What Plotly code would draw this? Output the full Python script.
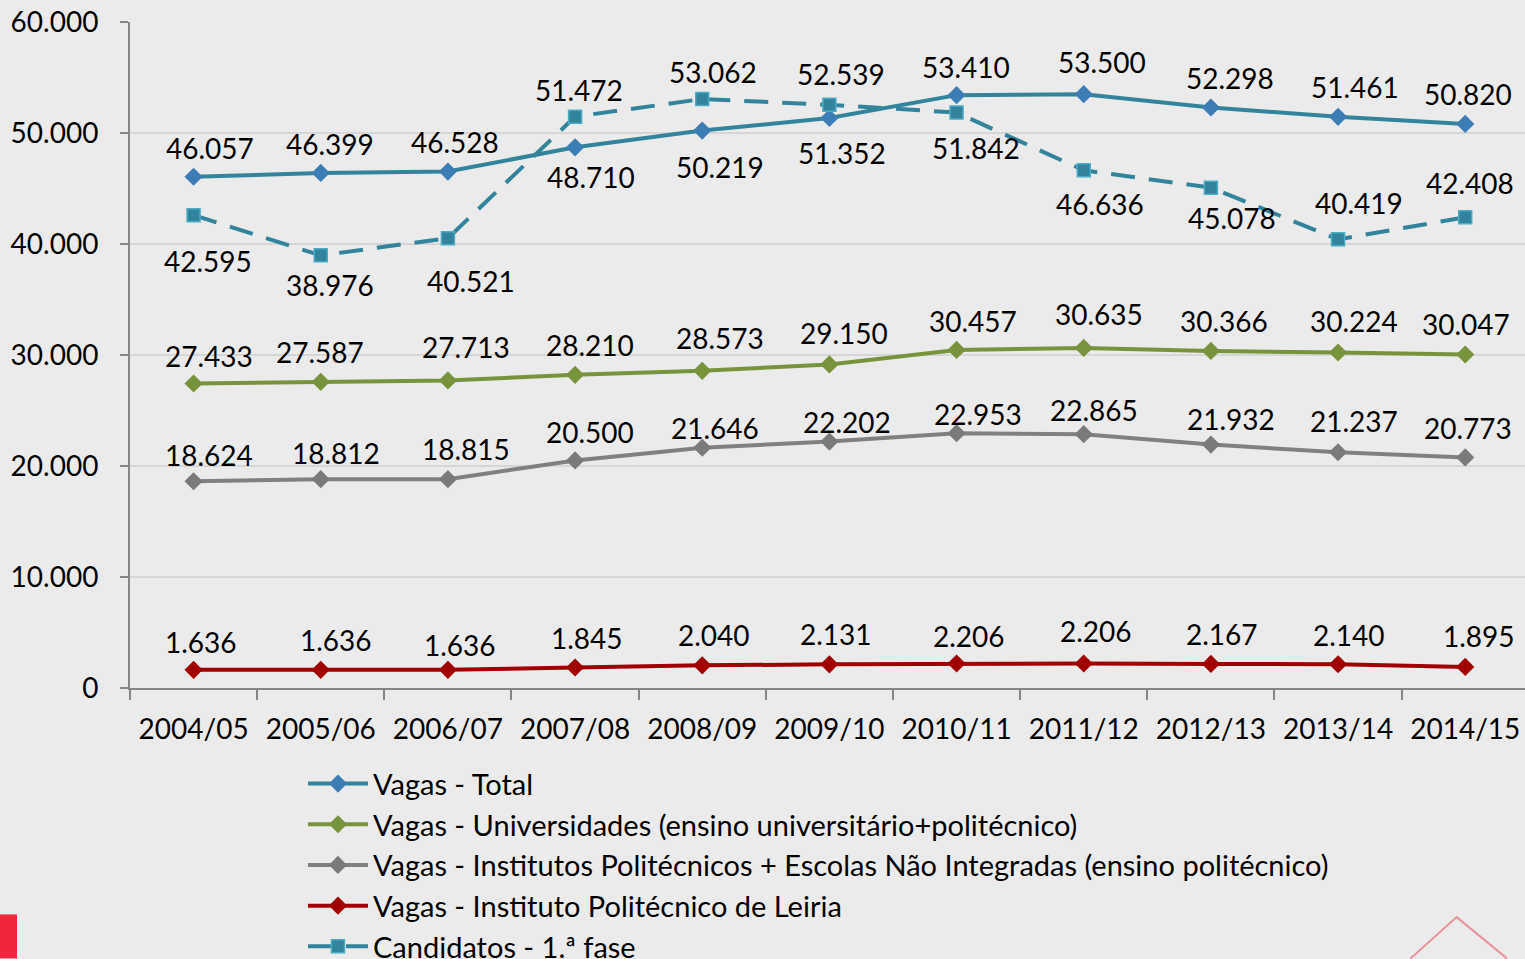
import plotly.graph_objects as go

years = ["2004/05", "2005/06", "2006/07", "2007/08", "2008/09", "2009/10",
         "2010/11", "2011/12", "2012/13", "2013/14", "2014/15"]
vagas_total = [46057, 46399, 46528, 48710, 50219, 51352, 53410, 53500, 52298, 51461, 50820]
vagas_univ = [27433, 27587, 27713, 28210, 28573, 29150, 30457, 30635, 30366, 30224, 30047]
vagas_poli = [18624, 18812, 18815, 20500, 21646, 22202, 22953, 22865, 21932, 21237, 20773]
vagas_leiria = [1636, 1636, 1636, 1845, 2040, 2131, 2206, 2206, 2167, 2140, 1895]
candidatos = [42595, 38976, 40521, 51472, 53062, 52539, 51842, 46636, 45078, 40419, 42408]

# label offsets (pixels) – style only
total_dx = [16, 9, 7, 16, 18, 13, 9, 18, 19, 17, 3]
total_dy = [29, 29, 30, -30, -36, -35, 28, 32, 29, 30, 30]
cand_dx = [14, 9, 23, 4, 11, 12, 19, 16, 21, 21, 5]
cand_dy = [-46, -30, -43, 27, 27, 31, -35, -34, -30, 36, 34]
univ_dx = [15, -1, 18, 15, 18, 15, 16, 15, 13, 16, 1]
univ_dy = [27, 30, 33, 30, 33, 31, 29, 34, 30, 32, 30]
poli_dx = [15, 15, 18, 15, 13, 18, 21, 10, 20, 16, 3]
poli_dy = [26, 26, 30, 28, 20, 20, 19, 24, 26, 31, 29]
leir_dx = [7, 15, 12, 12, 12, 7, 12, 12, 11, 11, 14]
leir_dy = [28, 30, 25, 30, 30, 30, 28, 33, 30, 29, 31]

FONT = "Lato, 'Open Sans', sans-serif"
fig = go.Figure()

series = [
    ("Vagas - Total", vagas_total, "#31849B", "#3C7DB5", "diamond", False, total_dx, total_dy),
    ("Vagas - Universidades (ensino universitário+politécnico)", vagas_univ, "#77933C", "#77933C", "diamond", False, univ_dx, univ_dy),
    ("Vagas - Institutos Politécnicos + Escolas Não Integradas (ensino politécnico)", vagas_poli, "#808080", "#7A7A7A", "diamond", False, poli_dx, poli_dy),
    ("Vagas - Instituto Politécnico de Leiria", vagas_leiria, "#A00000", "#A00000", "diamond", False, leir_dx, leir_dy),
    ("Candidatos - 1.ª fase", candidatos, "#31849B", "#31849B", "square", True, cand_dx, cand_dy),
]

annotations = []
for name, vals, lc, mc, sym, dashed, dxs, dys in series:
    mline = dict(width=1.5, color="#4BACC6") if sym == "square" else dict(width=0)
    fig.add_trace(go.Scatter(
        x=years, y=vals, name=name, mode="lines+markers",
        line=dict(color=lc, width=4, dash="24px,14px" if dashed else "solid"),
        marker=dict(symbol=sym, size=14 if sym == "diamond" else 13, color=mc, line=mline),
    ))
    for xv, yv, dx, dy in zip(years, vals, dxs, dys):
        annotations.append(dict(
            x=xv, y=yv, xref="x", yref="y", text=f"{yv:,}".replace(",", "."),
            showarrow=False, xshift=dx, yshift=dy,
            font=dict(family=FONT, size=28, color="#000000"),
        ))

fig.update_layout(
    width=1525, height=959,
    margin=dict(l=130, r=0, t=22, b=271),
    paper_bgcolor="#EBEBEB", plot_bgcolor="rgba(0,0,0,0)",
    separators=",.",
    font=dict(family=FONT, size=28, color="#000000"),
    annotations=annotations,
    legend=dict(
        yref="container",
        x=0.124, y=0.2094, xanchor="left", yanchor="top",
        bgcolor="rgba(0,0,0,0)", font=dict(family=FONT, size=29, color="#000000"),
        tracegroupgap=0, itemwidth=60,
    ),
    xaxis=dict(
        type="category", range=[-0.5, 10.47], tickson="boundaries",
        ticks="outside", ticklen=10, tickcolor="#868686", tickwidth=2,
        showline=True, linecolor="#868686", linewidth=2, showgrid=False,
        ticklabelstandoff=15,
        tickfont=dict(family=FONT, size=28, color="#000000"),
    ),
    yaxis=dict(
        range=[0, 60000], tickvals=[0, 10000, 20000, 30000, 40000, 50000, 60000],
        tickformat=",", ticks="outside", ticklen=8, tickcolor="#868686", tickwidth=2,
        showline=True, linecolor="#868686", linewidth=2,
        showgrid=True, gridcolor="#D6D6D6", gridwidth=2, zeroline=False,
        ticklabelstandoff=16,
        tickfont=dict(family=FONT, size=28, color="#000000"),
    ),
    shapes=[
        dict(type="rect", xref="paper", yref="paper", x0=-0.0932, x1=-0.081, y0=-0.406, y1=-0.34,
             fillcolor="#F0263C", line=dict(width=0), layer="below"),
        dict(type="path", xref="paper", yref="paper",
             path="M 0.918 -0.406 L 0.951 -0.344 L 0.987 -0.406",
             line=dict(color="#E8919A", width=2), layer="below"),
    ],
)

fig.write_html("out.html", config={"displayModeBar": False},
               post_script="document.body.style.margin='0';document.body.style.overflow='hidden';")
